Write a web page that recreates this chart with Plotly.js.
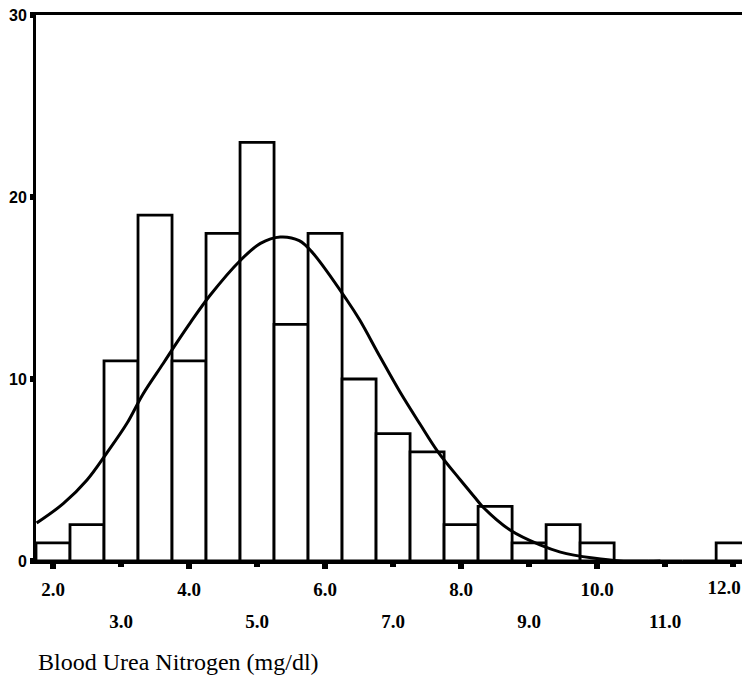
<!DOCTYPE html>
<html>
<head>
<meta charset="utf-8">
<script src="https://cdn.plot.ly/plotly-3.0.1.min.js"></script>
<style>html,body{margin:0;padding:0;background:#fff;}#chart{width:742px;height:682px;}</style>
</head>
<body>
<div id="chart"></div>
<script>
// Histogram bins (mg/dl, bin centres) and counts
const binCenters = [2.0, 2.5, 3.0, 3.5, 4.0, 4.5, 5.0, 5.5, 6.0, 6.5, 7.0, 7.5, 8.0, 8.5, 9.0, 9.5, 10.0, 10.5, 11.0, 11.5, 12.0];
const counts     = [1,   2,   11,  19,  11,  18,  23,  13,  18,  10,  7,   6,   2,   3,   1,   2,   1,    0,    0,    0,    1];

// Fitted curve
const curveX = [1.76, 2.15, 2.50, 2.79, 3.09, 3.32, 3.62, 3.82, 4.02, 4.31, 4.75, 5.05, 5.34, 5.62, 5.82, 6.32, 6.51, 6.81, 7.10, 7.40, 7.66, 7.99, 8.21, 8.32, 8.72, 9.16, 9.46, 9.94, 10.34, 10.93];
const curveY = [2.09, 3.15, 4.45, 5.93, 7.58, 9.15, 10.85, 12.0, 13.1, 14.6, 16.5, 17.45, 17.8, 17.6, 16.92, 14.34, 13.24, 11.21, 9.3, 7.5, 6.0, 4.45, 3.46, 2.97, 1.70, 0.88, 0.49, 0.16, 0, 0];

// Tick labels
const evenTicks = [2, 4, 6, 8, 10];
const evenLabels = ['2.0', '4.0', '6.0', '8.0', '10.0'];
const lastTick = [12];
const lastLabel = ['12.0'];
const oddTicks = [3, 5, 7, 9, 11];
const oddLabels = ['3.0', '5.0', '7.0', '9.0', '11.0'];
const yTicks = [0, 10, 20, 30];
const yLabels = ['0', '10', '20', '30'];
const xTitle = 'Blood Urea Nitrogen (mg/dl)';

const xRange = [1.75, 12.13];

const traces = [
  {
    type: 'bar', x: binCenters, y: counts, width: 0.5,
    marker: {color: '#ffffff', line: {color: '#000000', width: 2.8}},
    hoverinfo: 'skip', showlegend: false
  },
  {
    type: 'scatter', mode: 'lines', x: curveX, y: curveY,
    line: {color: '#000000', width: 3, shape: 'spline', smoothing: 1},
    hoverinfo: 'skip', showlegend: false, cliponaxis: true
  },
  {
    type: 'scatter', mode: 'markers', x: oddTicks, y: oddTicks.map(() => 0),
    xaxis: 'x2', yaxis: 'y', marker: {opacity: 0, size: 1},
    hoverinfo: 'skip', showlegend: false
  },
  {
    type: 'scatter', mode: 'markers', x: lastTick, y: lastTick.map(() => 0),
    xaxis: 'x3', yaxis: 'y', marker: {opacity: 0, size: 1},
    hoverinfo: 'skip', showlegend: false
  }
];

const tickFontX = {family: 'Liberation Serif, Times New Roman, serif', size: 19, color: '#000', weight: 'bold'};

const layout = {
  width: 742, height: 682,
  margin: {l: 36, r: 0, t: 15, b: 121, pad: 0},
  paper_bgcolor: '#fff', plot_bgcolor: '#fff',
  bargap: 0,
  xaxis: {
    range: xRange, showgrid: false, zeroline: false,
    showline: true, linecolor: '#000', linewidth: 3, mirror: true,
    ticks: 'outside', ticklen: 5, tickwidth: 6, tickcolor: '#000',
    tickvals: evenTicks, ticktext: evenLabels, tickfont: tickFontX,
    ticklabelstandoff: 4, ticklabeloverflow: 'allow', automargin: false
  },
  xaxis2: {
    range: xRange, overlaying: 'x', anchor: 'y', side: 'bottom',
    showgrid: false, zeroline: false, showline: false,
    ticks: 'outside', ticklen: 5, tickwidth: 6, tickcolor: '#000',
    tickvals: oddTicks, ticktext: oddLabels, tickfont: tickFontX,
    ticklabelstandoff: 38, ticklabeloverflow: 'allow', automargin: false
  },
  xaxis3: {
    range: xRange, overlaying: 'x', anchor: 'y', side: 'bottom',
    showgrid: false, zeroline: false, showline: false,
    ticks: 'outside', ticklen: 5, tickwidth: 6, tickcolor: '#000',
    tickvals: lastTick, ticktext: lastLabel, tickfont: tickFontX,
    ticklabelstandoff: 4, ticklabelshift: -9, ticklabeloverflow: 'allow', automargin: false
  },
  yaxis: {
    range: [0, 30], showgrid: false, zeroline: false,
    showline: true, linecolor: '#000', linewidth: 3,
    ticks: 'outside', ticklen: 3, tickwidth: 6, tickcolor: '#000',
    tickvals: yTicks, ticktext: yLabels, automargin: false,
    tickfont: {family: 'Liberation Sans, Arial, sans-serif', size: 16, color: '#000', weight: 'bold'}
  },
  annotations: [{
    text: xTitle, showarrow: false,
    xref: 'paper', yref: 'paper', x: 0, y: -0.185,
    xanchor: 'left', yanchor: 'middle',
    font: {family: 'Liberation Serif, Times New Roman, serif', size: 24, color: '#000'}
  }]
};

Plotly.newPlot('chart', traces, layout, {staticPlot: true, displayModeBar: false});
</script>
</body>
</html>
